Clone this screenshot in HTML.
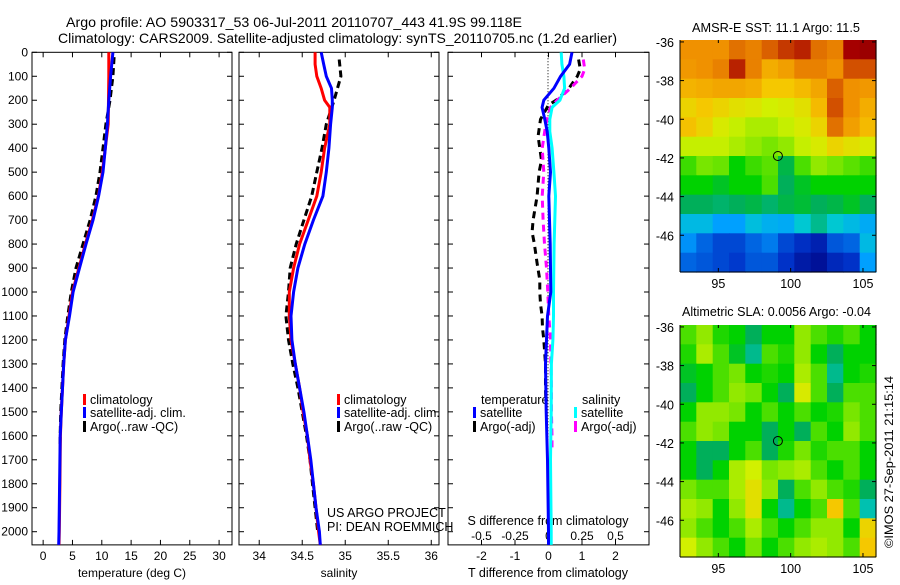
<!DOCTYPE html>
<html><head><meta charset="utf-8"><style>
body{margin:0;background:#fff;width:900px;height:580px;overflow:hidden}
svg{font-family:"Liberation Sans",sans-serif;font-size:12px}
</style></head><body>
<svg id="s" width="900" height="580" viewBox="0 0 900 580" xmlns="http://www.w3.org/2000/svg">
<text x="66" y="27" font-size="14" textLength="456" lengthAdjust="spacingAndGlyphs">Argo profile: AO 5903317_53 06-Jul-2011 20110707_443 41.9S 99.118E</text>
<text x="58" y="43" font-size="14" textLength="559" lengthAdjust="spacingAndGlyphs">Climatology: CARS2009. Satellite-adjusted climatology: synTS_20110705.nc (1.2d earlier)</text>
<text x="692" y="32" font-size="13" textLength="168" lengthAdjust="spacingAndGlyphs">AMSR-E SST: 11.1  Argo: 11.5</text>
<text x="682" y="316" font-size="13" textLength="189" lengthAdjust="spacingAndGlyphs">Altimetric SLA: 0.0056  Argo: -0.04</text>
<text transform="translate(893,548) rotate(-90)" font-size="12" textLength="172" lengthAdjust="spacingAndGlyphs">©IMOS 27-Sep-2011 21:15:14</text>
</svg>
<script>
// ---- data ----
const depthTicks=[0,100,200,300,400,500,600,700,800,900,1000,1100,1200,1300,1400,1500,1600,1700,1800,1900,2000];
const tempTicks=[0,5,10,15,20,25,30];
const salTicks=[34,34.5,35,35.5,36];
const dTTicks=[-2,-1,0,1,2];
const dSTicks=[-0.5,-0.25,0,0.25,0.5];
const tDepth=[0,100,200,300,400,500,600,700,800,900,1000,1100,1200,1300,1400,1500,1600,1800,2000,2055];
const tClim=[11.2,11.2,11.15,11.1,10.6,10.1,9.4,8.4,7.2,6.1,5.0,4.4,3.8,3.5,3.3,3.1,2.95,2.85,2.75,2.7];
const tSat=[11.9,11.5,11.2,10.95,10.6,10.2,9.45,8.5,7.3,6.2,5.1,4.5,3.8,3.5,3.3,3.1,2.9,2.8,2.7,2.65];
const aDepth=[20,100,200,300,400,500,600,700,800,900,1000,1100,1200,1300,1400,1500,1600,1650];
const tArgo=[12.1,11.9,11.4,10.7,10.2,9.7,9.0,8.0,6.8,5.6,4.8,4.2,3.7,3.4,3.2,3.0,2.9,2.85];
const sDepth=[0,50,100,150,200,230,300,400,500,600,700,800,900,1000,1100,1200,1300,1400,1500,1600,1700,1800,1900,2000,2055];
const sClim=[34.65,34.65,34.67,34.72,34.76,34.82,34.82,34.76,34.72,34.67,34.57,34.47,34.40,34.35,34.35,34.37,34.42,34.47,34.51,34.56,34.59,34.63,34.66,34.69,34.71];
const sSat=[34.72,34.75,34.78,34.84,34.85,34.85,34.83,34.81,34.78,34.74,34.63,34.53,34.45,34.40,34.37,34.38,34.42,34.47,34.52,34.56,34.6,34.63,34.66,34.7,34.71];
const saDepth=[30,100,200,300,400,500,600,700,800,900,1000,1100,1200,1300,1400,1500,1600,1700,1800,1900,2000];
const sArgo=[34.93,34.95,34.87,34.78,34.73,34.67,34.61,34.52,34.43,34.36,34.34,34.31,34.34,34.39,34.45,34.5,34.55,34.59,34.62,34.65,34.68];
const dDepth=[0,50,100,150,200,230,280,330,400,500,600,800,1000,1100,1200,1300,1500,1700,2000,2055];
const dTSat=[0.7,0.63,0.36,0.16,-0.14,-0.19,-0.11,-0.04,0.01,0.06,0.01,0.05,0.07,-0.03,-0.06,-0.09,-0.07,-0.03,0,0];
const dSSat=[0.095,0.1,0.115,0.12,0.085,0.027,0.01,0.01,0.027,0.04,0.052,0.042,0.037,0.037,0.033,0.022,0.02,0.015,0.02,0.02];
const daDepth=[30,70,100,150,200,220,280,350,400,450,500,600,700,750,800,880,950,1000,1050,1100,1150,1200,1300,1400,1450];
const dTArgo=[0.9,0.95,0.86,0.61,0.23,0,-0.24,-0.31,-0.26,-0.21,-0.28,-0.34,-0.46,-0.49,-0.42,-0.34,-0.26,-0.26,-0.24,-0.19,-0.18,-0.14,-0.09,-0.09,-0.08];
const dsaDepth=[30,70,100,150,200,230,300,400,500,600,700,800,900,1000,1100,1200,1400,1500,1600,1650];
const dSArgo=[0.26,0.27,0.25,0.164,0.065,0.015,-0.02,-0.047,-0.035,-0.047,-0.04,-0.03,-0.015,-0.005,0.002,0.015,0.022,0.022,0.026,0.026];
const lonTicks=[95,100,105];
const latTicks=[-36,-38,-40,-42,-44,-46];
const sstGrid=[
[.8,.8,.8,.84,.82,.86,.9,.92,.84,.82,.95,.97],
[.79,.8,.82,.92,.82,.76,.78,.82,.82,.8,.88,.88],
[.75,.76,.77,.77,.76,.72,.72,.74,.77,.86,.8,.79],
[.7,.72,.7,.68,.67,.65,.66,.68,.74,.88,.8,.76],
[.73,.7,.66,.64,.62,.62,.64,.66,.7,.84,.78,.74],
[.64,.64,.64,.62,.6,.58,.6,.64,.66,.7,.68,.66],
[.54,.58,.57,.5,.54,.56,.46,.55,.6,.58,.56,.54],
[.5,.5,.48,.5,.5,.55,.45,.48,.5,.5,.5,.5],
[.45,.45,.44,.45,.46,.44,.46,.47,.45,.46,.48,.45],
[.35,.35,.3,.3,.36,.33,.32,.38,.42,.38,.35,.32],
[.28,.22,.18,.18,.22,.25,.18,.14,.1,.2,.22,.35],
[.22,.2,.18,.16,.2,.2,.15,.08,.05,.12,.15,.3]];
const slaGrid=[
[.55,.6,.52,.5,.45,.5,.5,.6,.55,.52,.55,.5],
[.52,.62,.55,.48,.42,.55,.52,.6,.5,.45,.5,.5],
[.48,.5,.55,.58,.5,.52,.5,.62,.55,.42,.5,.52],
[.45,.5,.55,.6,.58,.5,.45,.66,.55,.45,.55,.55],
[.5,.6,.6,.58,.5,.55,.5,.55,.5,.52,.58,.55],
[.55,.6,.58,.5,.5,.45,.5,.45,.55,.5,.6,.55],
[.5,.45,.45,.5,.55,.45,.52,.58,.52,.55,.55,.5],
[.5,.45,.5,.62,.65,.58,.6,.62,.55,.5,.55,.5],
[.58,.55,.55,.62,.68,.6,.45,.55,.6,.55,.52,.45],
[.62,.6,.5,.6,.68,.5,.42,.5,.55,.72,.55,.4],
[.6,.55,.5,.55,.62,.55,.5,.55,.6,.6,.5,.7],
[.65,.6,.55,.5,.58,.5,.55,.6,.62,.6,.55,.72]];
const argoLon=[99.118], argoLat=[-41.9];

// ---- drawing ----
const S=document.getElementById('s'),NS='http://www.w3.org/2000/svg';
function el(t,a,p){const e=document.createElementNS(NS,t);for(const k in a)e.setAttribute(k,a[k]);(p||S).appendChild(e);return e;}
function txt(x,y,s,anchor,p,fs){const e=el('text',{x:x,y:y,'text-anchor':anchor||'start','font-size':fs||12},p);e.textContent=s;return e;}
const Y0=52.3,KY=0.2397;
const yD=d=>Y0+d*KY;
const P=[{x0:32,x1:232,lo:-1.9,hi:32.2},{x0:239,x1:439,lo:33.765,hi:36.09},{x0:448,x1:649,lo:-3,hi:3}];
const sx=(p,v)=>p.x0+(v-p.lo)/(p.hi-p.lo)*(p.x1-p.x0);
const ssx=v=>sx(P[2],v*4);
const yB=yD(2055);
function frame(p,ticks,fmt,name){
  const g=el('g',{});
  
  
  el('rect',{x:p.x0,y:Y0,width:p.x1-p.x0,height:yB-Y0,fill:'none',stroke:'#000','stroke-width':1},g);
  depthTicks.forEach(d=>{el('line',{x1:p.x0,x2:p.x0+5,y1:yD(d),y2:yD(d),stroke:'#000'},g);el('line',{x1:p.x1,x2:p.x1-5,y1:yD(d),y2:yD(d),stroke:'#000'},g);});
  ticks.forEach(v=>{const x=sx(p,v);el('line',{x1:x,x2:x,y1:Y0,y2:Y0+5,stroke:'#000'},g);el('line',{x1:x,x2:x,y1:yB,y2:yB-5,stroke:'#000'},g);txt(x,yB+15,fmt(v),'middle',g);});
  return g;
}
function line(xs,ds,fx,col,w,dash,name){
  const pts=xs.map((v,i)=>fx(v).toFixed(1)+','+yD(ds[i]).toFixed(1)).join(' ');
  const e=el('polyline',{points:pts,fill:'none',stroke:col,'stroke-width':w,'stroke-dasharray':dash||'none'});
  
  
}
// panel 1
const g1=frame(P[0],tempTicks,v=>String(v),'temperature-panel');
depthTicks.forEach(d=>txt(28,yD(d)+4,String(d),'end',g1));
txt(132,577,'temperature (deg C)','middle',g1);
line(tArgo,aDepth,v=>sx(P[0],v),'#000',3,'7,4','temp-argo-line');
line(tClim,tDepth,v=>sx(P[0],v),'#f00',3,'','temp-climatology-line');
line(tSat,tDepth,v=>sx(P[0],v),'#00f',3,'','temp-satellite-line');
// panel 2
const g2=frame(P[1],salTicks,v=>String(v),'salinity-panel');
txt(339,577,'salinity','middle',g2);
line(sArgo,saDepth,v=>sx(P[1],v),'#000',3,'7,4','salinity-argo-line');
line(sClim,sDepth,v=>sx(P[1],v),'#f00',3,'','salinity-climatology-line');
line(sSat,sDepth,v=>sx(P[1],v),'#00f',3,'','salinity-satellite-line');
txt(327,517,'US ARGO PROJECT','start',g2,12.5);
txt(327,531,'PI: DEAN ROEMMICH','start',g2,12.5);
// panel 3
const g3=frame(P[2],dTTicks,v=>String(v),'difference-panel');
txt(548,577,'T difference from climatology','middle',g3,12.5);
txt(548,525,'S difference from climatology','middle',g3,12.5);
dSTicks.forEach(v=>txt(ssx(v),540,String(v),'middle',g3));
el('line',{x1:548,x2:548,y1:Y0,y2:yB,stroke:'#000','stroke-dasharray':'1,2'},g3);
line(dTArgo,daDepth,v=>sx(P[2],v),'#000',3,'7,5','dT-argo-line');
line(dSArgo,dsaDepth,ssx,'#f0f',3,'7,5','dS-argo-line');
line(dSSat,dDepth,ssx,'#0ff',3,'','dS-satellite-line');
line(dTSat,dDepth,v=>sx(P[2],v),'#00f',3,'','dT-satellite-line');
// legends
function leg(x,y,col,label,name){
  const g=el('g',{});
  
  
  el('rect',{x:x,y:y-10,width:3,height:11,fill:col},g);txt(x+7,y,label,'start',g,12.5);
}
leg(83,404,'#f00','climatology','legend-climatology');
leg(83,417,'#00f','satellite-adj. clim.','legend-satellite');
leg(83,431,'#000','Argo(..raw -QC)','legend-argo');
leg(337,404,'#f00','climatology','legend2-climatology');
leg(337,417,'#00f','satellite-adj. clim.','legend2-satellite');
leg(337,431,'#000','Argo(..raw -QC)','legend2-argo');
txt(481,404,'temperature','start',g3,12.5);txt(582,404,'salinity','start',g3,12.5);
leg(473,417,'#00f','satellite','legend-t-satellite');
leg(473,431,'#000','Argo(-adj)','legend-t-argo');
leg(574,417,'#0ff','satellite','legend-s-satellite');
leg(574,431,'#f0f','Argo(-adj)','legend-s-argo');
// colormap
const cmStops=[[0,[0,0,128]],[0.15,[0,50,200]],[0.3,[0,160,255]],[0.38,[0,200,210]],[0.45,[0,175,90]],[0.5,[0,210,0]],[0.58,[120,230,0]],[0.65,[210,240,0]],[0.72,[245,200,0]],[0.8,[240,145,0]],[0.88,[210,80,0]],[0.95,[165,0,0]],[1,[140,0,0]]];
function cmap(v){
  for(let i=1;i<cmStops.length;i++){if(v<=cmStops[i][0]){const a=cmStops[i-1],b=cmStops[i],t=(v-a[0])/(b[0]-a[0]);return 'rgb('+a[1].map((c,k)=>Math.round(c+(b[1][k]-c)*t)).join(',')+')';}}
  return 'rgb(140,0,0)';
}
function map(grid,top,name){
  const L0=92.35,L1=105.9,LA0=-35.9,LA1=-47.9,x0=680,x1=876,y1=top+232;
  const mx=l=>x0+(l-L0)/(L1-L0)*(x1-x0), my=a=>top+(a-LA0)/(LA1-LA0)*(y1-top);
  const g=el('g',{});
  
  
  const nr=grid.length,nc=grid[0].length,cw=(L1-L0)/nc,ch=(LA1-LA0)/nr;
  grid.forEach((row,i)=>row.forEach((v,j)=>{
    const c=el('rect',{x:mx(L0+j*cw).toFixed(1),y:my(LA0+i*ch).toFixed(1),width:(mx(L0+cw)-x0+0.6).toFixed(1),height:(my(LA0+ch)-top+0.6).toFixed(1),fill:cmap(v)},g);
    
    
  }));
  el('line',{x1:x0,x2:x0,y1:top,y2:y1,stroke:'#000'},g);el('line',{x1:x1,x2:x1,y1:top,y2:y1,stroke:'#000'},g);
  el('line',{x1:x0,x2:x1,y1:y1,y2:y1,stroke:'#000'},g);
  lonTicks.forEach(l=>{el('line',{x1:mx(l),x2:mx(l),y1:y1,y2:y1-4,stroke:'#000'},g);el('line',{x1:mx(l),x2:mx(l),y1:top,y2:top+3,stroke:'#000'},g);txt(mx(l),y1+16,String(l),'middle',g,12.5);});
  latTicks.forEach(a=>{el('line',{x1:x0,x2:x0+4,y1:my(a),y2:my(a),stroke:'#000'},g);el('line',{x1:x1,x2:x1-4,y1:my(a),y2:my(a),stroke:'#000'},g);txt(x0-6,my(a)+5,String(a),'end',g,12.5);});
  const m=el('circle',{cx:mx(argoLon[0]),cy:my(argoLat[0]),r:4.5,fill:'none',stroke:'#000'},g);
  
  
}
map(sstGrid,40,'sst-map');
map(slaGrid,325,'sla-map');
</script>
</body></html>
